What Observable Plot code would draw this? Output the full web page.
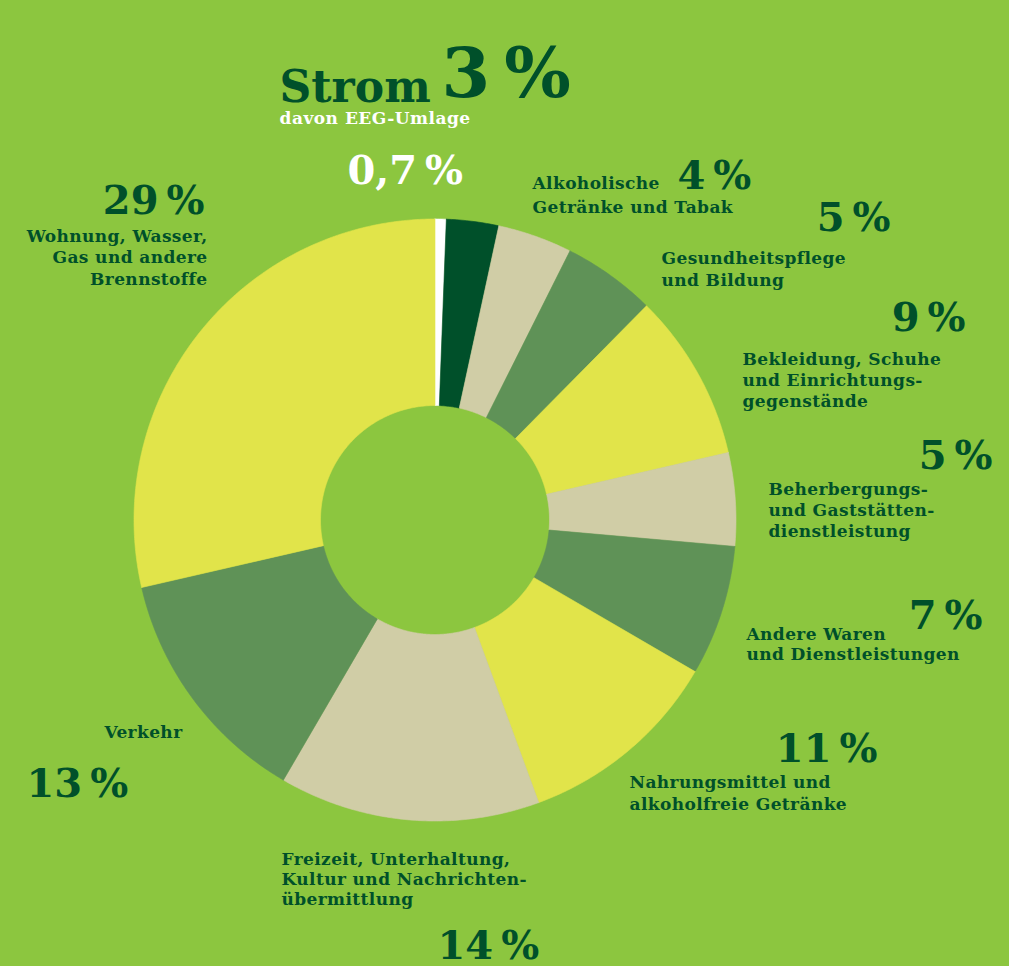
<!DOCTYPE html>
<html>
<head>
<meta charset="utf-8">
<script src="https://cdn.jsdelivr.net/npm/d3@7"></script>
<script src="https://cdn.jsdelivr.net/npm/@observablehq/plot@0.6"></script>
<style>
  html, body { margin: 0; padding: 0; background: #8cc63f; }
  #chart svg { display: block; }
</style>
</head>
<body>
<div id="chart"></div>
<script>
// ---- data (clockwise from 12 o'clock) ----
const categories = [
  "Strom",
  "Alkoholische\nGetränke und Tabak",
  "Gesundheitspflege\nund Bildung",
  "Bekleidung, Schuhe\nund Einrichtungs-\ngegenstände",
  "Beherbergungs-\nund Gaststätten-\ndienstleistung",
  "Andere Waren\nund Dienstleistungen",
  "Nahrungsmittel und\nalkoholfreie Getränke",
  "Freizeit, Unterhaltung,\nKultur und Nachrichten-\nübermittlung",
  "Verkehr",
  "Wohnung, Wasser,\nGas und andere\nBrennstoffe"
];
// slice sizes as drawn in the picture (percent of the full ring)
const shares = [3.4, 4, 5, 9, 5, 7, 11, 14, 13, 28.6];
const eegLabel = "davon EEG-Umlage";
const eegShare = 0.6;
// printed (rounded) labels
const percentLabels = ["3 %", "4 %", "5 %", "9 %", "5 %", "7 %", "11 %", "14 %", "13 %", "29 %"];
const eegPercentLabel = "0,7 %";

// ---- styles / layout (not data) ----
const BG = "#8cc63f";
const DARK = "#00502a";
const sliceColors = ["#00502a", "#d0cda6", "#5f9257", "#e1e44a", "#d0cda6", "#5f9257", "#e1e44a", "#d0cda6", "#5f9257", "#e1e44a"];
const EEG_COLOR = "#ffffff";
const W = 1009, H = 966;
const CX = 434.5, CY = 519.5, R_OUT = 301, R_IN = 114.5;

// slices: EEG part of Strom first, then remaining Strom, then others
const slices = [];
slices.push({key: "EEG", value: eegShare, color: EEG_COLOR});
slices.push({key: categories[0], value: shares[0] - eegShare, color: sliceColors[0]});
for (let i = 1; i < categories.length; ++i) slices.push({key: categories[i], value: shares[i], color: sliceColors[i]});

const pie = d3.pie().sort(null).value(d => d.value)(slices);
const ring = [];
for (const p of pie) {
  const a0 = p.startAngle, a1 = p.endAngle;
  const n = Math.max(2, Math.ceil((a1 - a0) / (Math.PI / 360)));
  const pts = [];
  for (let k = 0; k <= n; ++k) {
    const a = a0 + (a1 - a0) * k / n;
    pts.push([CX + R_OUT * Math.sin(a), CY - R_OUT * Math.cos(a)]);
  }
  for (let k = n; k >= 0; --k) {
    const a = a0 + (a1 - a0) * k / n;
    pts.push([CX + R_IN * Math.sin(a), CY - R_IN * Math.cos(a)]);
  }
  pts.push(pts[0]);
  for (const [x, y] of pts) ring.push({key: p.data.key, x, y});
}

// label layout
const FONT = "'DejaVu Serif', serif";
const LBL = 17;
const textLayout = [
  {text: categories[0], x: 279, b: 92, anchor: "start", size: 44, color: DARK},
  {text: percentLabels[0], x: 441, b: 82, anchor: "start", size: 70, color: DARK},
  {text: eegLabel, x: 279, b: 120, anchor: "start", size: LBL, color: "#ffffff", ls: 0.5},
  {text: eegPercentLabel, x: 347, b: 175, anchor: "start", size: 40, color: "#ffffff"},
  {text: categories[1], x: 532, b: 184, anchor: "start", size: LBL, lh: 24, color: DARK, ls: 0.4},
  {text: percentLabels[1], x: 677, b: 180, anchor: "start", size: 40, color: DARK},
  {text: percentLabels[2], x: 890, b: 222, anchor: "end", size: 40, color: DARK},
  {text: categories[2], x: 661, b: 260, anchor: "start", size: LBL, lh: 21.7, color: DARK, ls: 0.4},
  {text: percentLabels[3], x: 965, b: 322, anchor: "end", size: 40, color: DARK},
  {text: categories[3], x: 742, b: 362, anchor: "start", size: LBL, lh: 21, color: DARK, ls: 0.4},
  {text: percentLabels[4], x: 992, b: 460, anchor: "end", size: 40, color: DARK},
  {text: categories[4], x: 768, b: 492, anchor: "start", size: LBL, lh: 21, color: DARK, ls: 0.4},
  {text: percentLabels[5], x: 982, b: 620, anchor: "end", size: 40, color: DARK},
  {text: categories[5], x: 746, b: 637, anchor: "start", size: LBL, lh: 20, color: DARK, ls: 0.4},
  {text: percentLabels[6], x: 877, b: 753, anchor: "end", size: 40, color: DARK},
  {text: categories[6], x: 629, b: 784, anchor: "start", size: LBL, lh: 22, color: DARK, ls: 0.4},
  {text: categories[8], x: 182, b: 734, anchor: "end", size: LBL, color: DARK, ls: 0.4},
  {text: percentLabels[8], x: 26, b: 788, anchor: "start", size: 40, color: DARK},
  {text: categories[7], x: 281, b: 862, anchor: "start", size: LBL, lh: 20, color: DARK, ls: 0.4},
  {text: percentLabels[7], x: 437, b: 950, anchor: "start", size: 40, color: DARK},
  {text: percentLabels[9], x: 204, b: 205, anchor: "end", size: 40, color: DARK},
  {text: categories[9], x: 207, b: 238, anchor: "end", size: LBL, lh: 21.5, color: DARK, ls: 0.4}
];

const textMarks = textLayout.map(t => Plot.text([t], {
  x: "x",
  y: d => d.b - 0.71 * d.size,
  text: d => d.text.replace(" %", "\u2009%"),
  textAnchor: t.anchor,
  lineAnchor: "top",
  lineHeight: (t.lh || t.size * 1.3) / t.size,
  fontSize: t.size,
  fontFamily: FONT,
  fontWeight: "bold",
  fill: t.color,
  render: (index, scales, values, dimensions, context, next) => {
    const g = next(index, scales, values, dimensions, context);
    if (t.ls) g.setAttribute("letter-spacing", t.ls);
    return g;
  }
}));

const chart = Plot.plot({
  width: W,
  height: H,
  margin: 0,
  style: {background: BG, overflow: "visible"},
  x: {domain: [0, W], range: [0, W], axis: null},
  y: {domain: [0, H], range: [0, H], axis: null},
  color: {domain: slices.map(d => d.key), range: slices.map(d => d.color)},
  marks: [
    Plot.line(ring, {x: "x", y: "y", z: "key", fill: "key", stroke: "key", strokeWidth: 0.6, curve: "linear"}),
    ...textMarks
  ]
});
document.getElementById("chart").appendChild(chart);
</script>
</body>
</html>
